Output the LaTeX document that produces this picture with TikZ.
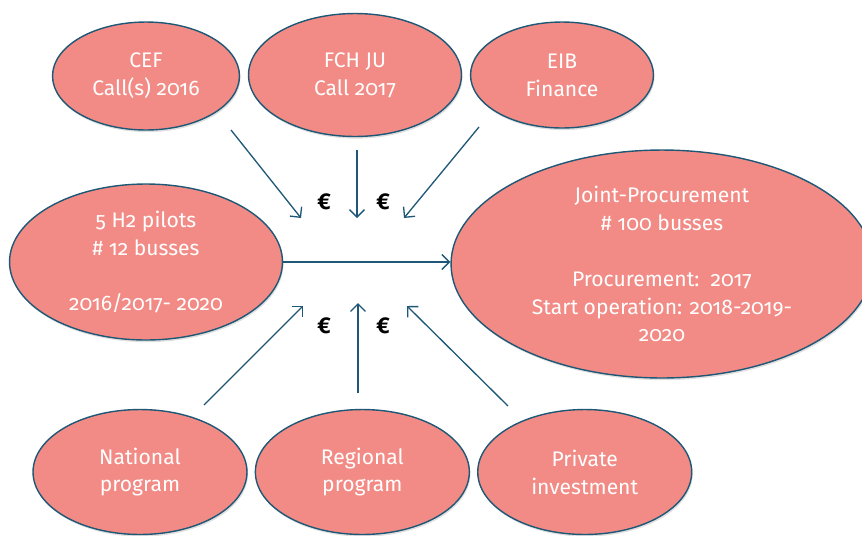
\documentclass[tikz,border=0pt]{standalone}
\usepackage{fontspec}
\setmainfont[Numbers=OldStyle]{Fira Sans}
\usepackage{tikz}
\usetikzlibrary{positioning,shapes,shadows,arrows.meta}
\definecolor{bubblefill}{RGB}{242,139,133}
\definecolor{bubbleedge}{RGB}{30,88,118}
\tikzstyle{bubble}=[ellipse, draw=bubbleedge, line width=0.8pt, fill=bubblefill,
        drop shadow={shadow xshift=0.6pt, shadow yshift=-1.2pt, opacity=0.25},
        text=white, align=center, inner sep=0pt, font=\fontsize{12}{15.9}\selectfont]
\tikzstyle{fund}=[bubble, minimum width=4.28cm, minimum height=2.5cm]
\tikzstyle{myarrow}=[->, >={Straight Barb[length=1.5mm,width=3mm]}, draw=bubbleedge, line width=0.75pt]
\tikzstyle{euro}=[text=black, font=\fontsize{13}{15.9}\selectfont\bfseries]

\begin{document}
\begin{tikzpicture}[x=0.02cm, y=-0.02cm]
    \useasboundingbox (0,0) rectangle (862,535);
    % sources of funding, top row
    \node (CEF) [bubble, minimum width=3.74cm, minimum height=2.16cm] at (146,76)
        {CEF\\Call(s) 2016};
    \node (FCH) [bubble, minimum width=4.26cm, minimum height=2.46cm] at (355,75)
        {FCH JU\\Call 2017};
    \node (EIB) [bubble, minimum width=3.66cm, minimum height=2.12cm] at (562,75)
        {EIB\\Finance};
    % pilots and joint procurement
    \node (Pilots) [bubble, minimum width=5.46cm, minimum height=3.12cm] at (146,262)
        {5 H2 pilots\\\# 12 busses\\[\baselineskip]2016/2017- 2020};
    \node (Joint) [bubble, minimum width=8.44cm, minimum height=4.56cm] at (662,264)
        {Joint-Procurement\\\# 100 busses\\[\baselineskip]Procurement:\ \ 2017\\Start operation: 2018-2019-\\2020};
    % sources of funding, bottom row
    \node (National) [fund] at (140,472) {National\\program};
    \node (Regional) [fund, right=0.14cm of National] {Regional\\program};
    \node (Private) [fund, right=0.14cm of Regional] {Private\\investment};
    % money symbols
    \node (euroTL) [euro] at (324,202) {€};
    \node (euroTR) [euro] at (383,202) {€};
    \node (euroBL) [euro] at (324,326) {€};
    \node (euroBR) [euro] at (383,326) {€};
    % loose ends of the funding arrows
    \coordinate (cefOut) at (231,130);
    \coordinate (fchOut) at (357,150);
    \coordinate (eibOut) at (479,127);
    \coordinate (cefIn) at (301,218);
    \coordinate (fchIn) at (357,218);
    \coordinate (eibIn) at (404,218);
    \coordinate (natOut) at (204,405);
    \coordinate (regOut) at (358,393);
    \coordinate (priOut) at (508,406);
    \coordinate (natIn) at (303,306);
    \coordinate (regIn) at (358,303);
    \coordinate (priIn) at (407,306);
    \draw[myarrow] (cefOut) -- (cefIn);
    \draw[myarrow] (fchOut) -- (fchIn);
    \draw[myarrow] (eibOut) -- (eibIn);
    \draw[myarrow] (natOut) -- (natIn);
    \draw[myarrow] (regOut) -- (regIn);
    \draw[myarrow] (priOut) -- (priIn);
    \draw[myarrow] (Pilots.east) -- (Pilots.east -| Joint.west);
\end{tikzpicture}
\end{document}
